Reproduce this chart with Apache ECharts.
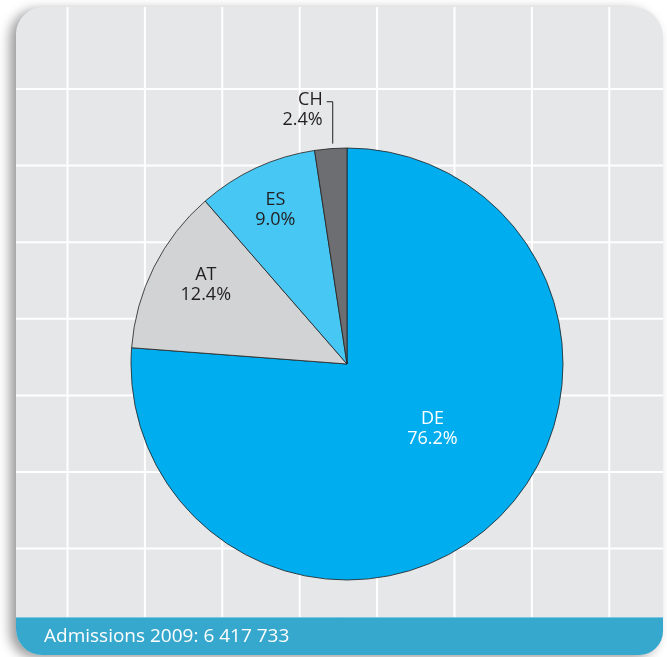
<!DOCTYPE html>
<html>
<head>
<meta charset="utf-8">
<script src="https://cdn.jsdelivr.net/npm/echarts@6/dist/echarts.min.js"></script>
<style>
html,body{margin:0;padding:0;background:#fff;}
#c{width:667px;height:657px;}
</style>
</head>
<body>
<div id="c"></div>
<script>
// ---- data ----
var categories = ['DE', 'AT', 'ES', 'CH'];
var shares = [76.2, 12.4, 9.0, 2.4];
var footerText = 'Admissions 2009: 6 417 733';

// ---- styles ----
var sliceColors = ['#00adef', '#d1d3d4', '#47c7f4', '#6d6e71'];
var labelColors = ['#ffffff', '#231f20', '#231f20', '#231f20'];
var labelShift = [[10, -17], [-42, -29], [-25, -53], null];

var chart = echarts.init(document.getElementById('c'), null, {renderer: 'canvas'});

var P = {x: 16, y: 7, w: 647, h: 648, r: 27};
var barTop = 617;

var gfx = [];
gfx.push({type: 'rect', z: 0, shape: {x: P.x, y: P.y, width: P.w, height: P.h, r: [P.r, 30, 24, 26]},
  style: {fill: '#e6e7e8', shadowBlur: 12, shadowOffsetX: -6, shadowOffsetY: 3, shadowColor: 'rgba(0,0,0,0.4)'}});
var vStart = 67.5, vStep = 77.4;
for (var i = 0; i < 8; i++) {
  var xx = vStart + i * vStep;
  gfx.push({type: 'line', z: 1, shape: {x1: xx, y1: P.y, x2: xx, y2: barTop}, style: {stroke: '#ffffff', lineWidth: 2}});
}
var hStart = 89, hStep = 76.6;
for (var j = 0; j < 7; j++) {
  var yy = hStart + j * hStep;
  gfx.push({type: 'line', z: 1, shape: {x1: P.x, y1: yy, x2: P.x + P.w, y2: yy}, style: {stroke: '#ffffff', lineWidth: 2}});
}
gfx.push({type: 'rect', z: 2, shape: {x: P.x, y: barTop, width: P.w, height: P.y + P.h - barTop, r: [0, 0, 24, 26]},
  style: {fill: '#36a7cd'}});
gfx.push({type: 'line', z: 2, shape: {x1: P.x, y1: barTop + 0.5, x2: P.x + P.w, y2: barTop + 0.5}, style: {stroke: '#7cc6e0', lineWidth: 1}});
gfx.push({type: 'text', z: 3, x: 44, y: 637,
  style: {text: footerText, fill: '#ffffff', font: '19px "Open Sans", sans-serif', textVerticalAlign: 'middle'}});

var data = categories.map(function (c, k) {
  var item = {
    name: c, value: shares[k],
    itemStyle: {color: sliceColors[k]},
    label: {color: labelColors[k]}
  };
  if (k === 3) {
    item.label.position = 'outside';
    item.labelLine = {show: true, length: 47, length2: 6, lineStyle: {color: '#231f20', width: 1}};
  } else {
    item.label.position = 'inside';
  }
  return item;
});

chart.setOption({
  animation: false,
  graphic: gfx,
  series: [{
    type: 'pie',
    z: 5,
    center: [347, 364],
    radius: [0, 216],
    startAngle: 90,
    clockwise: true,
    avoidLabelOverlap: false,
    itemStyle: {borderColor: '#231f20', borderWidth: 0.8},
    label: {
      show: true,
      fontFamily: '"Open Sans", sans-serif',
      fontSize: 18,
      lineHeight: 20,
      align: 'center',
      formatter: function (p) { return p.name + '\n' + p.value.toFixed(1) + '%'; }
    },
    labelLine: {show: false},
    emphasis: {disabled: true},
    labelLayout: function (params) {
      var k = params.dataIndex;
      if (labelShift[k]) {
        return {dx: labelShift[k][0], dy: labelShift[k][1]};
      }
      var pts = params.labelLinePoints;
      if (!pts) return {};
      var vx = pts[0][0] + 2;
      var topY = pts[1][1];
      var endX = vx - 6;
      return {
        labelLinePoints: [[vx, pts[0][1] - 5], [vx, topY], [endX, topY]],
        align: 'right',
        x: endX - 4,
        y: topY + 8
      };
    },
    data: data
  }]
});
</script>
</body>
</html>
